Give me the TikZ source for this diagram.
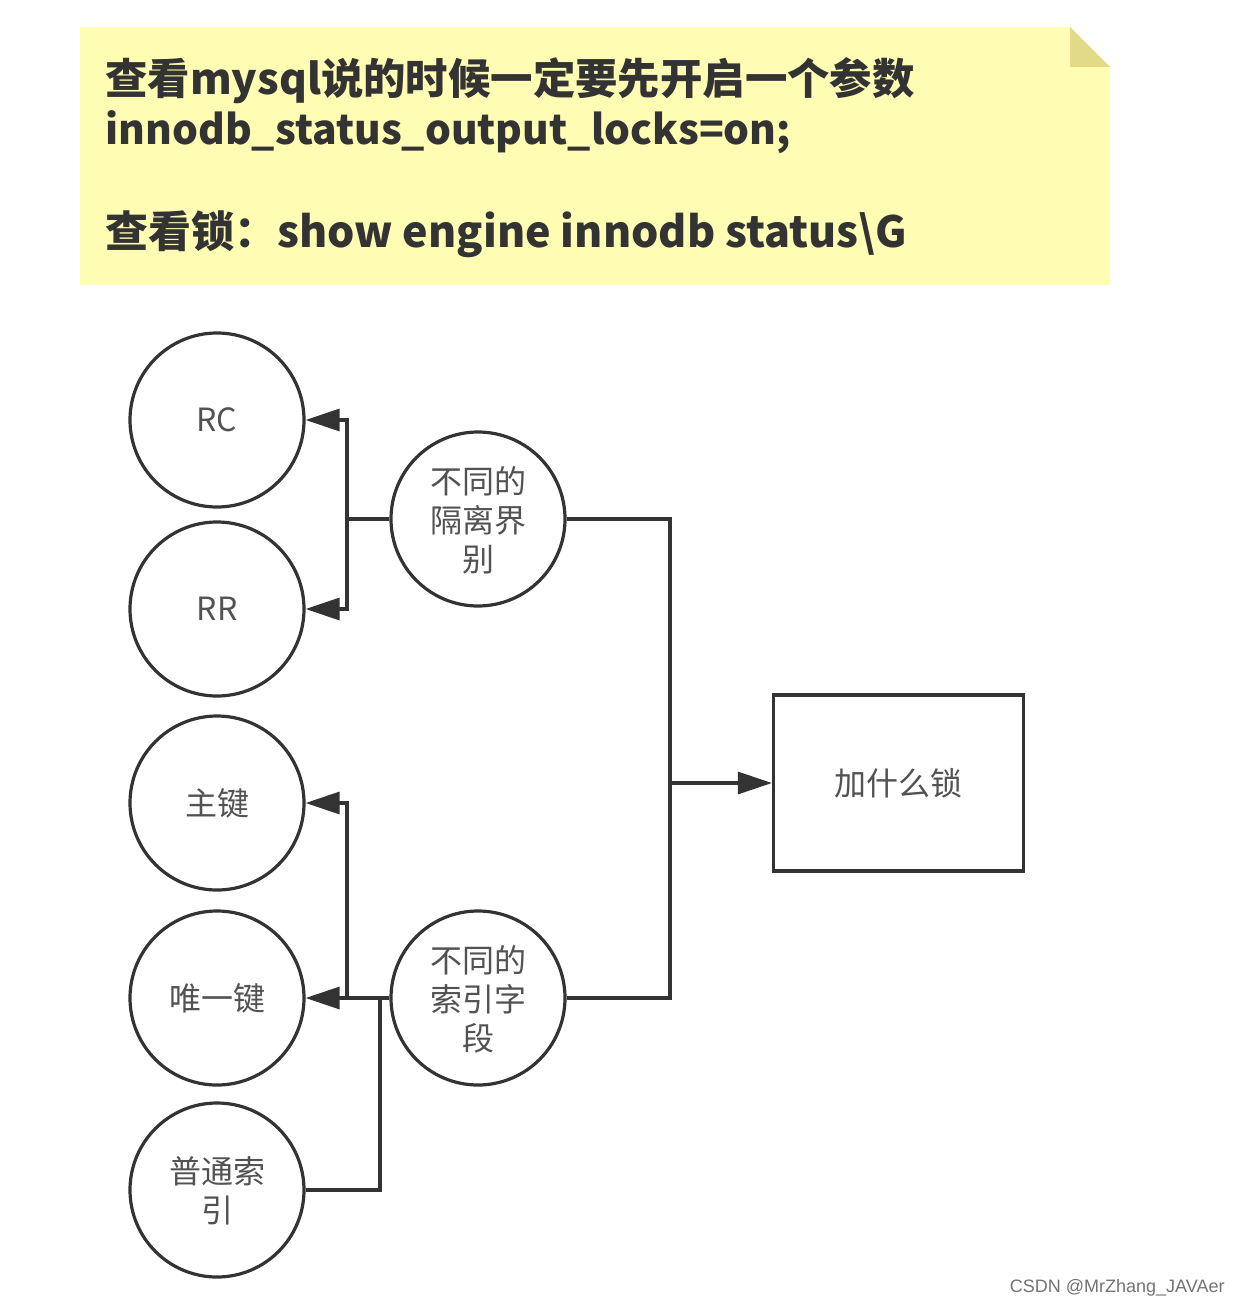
\documentclass[tikz,border=0pt]{standalone}
\usepackage{fontspec}
\setmainfont{Noto Sans CJK SC}
\newfontfamily\wmfont{Liberation Sans}
\usetikzlibrary{arrows.meta}
\definecolor{ink}{HTML}{333333}
\definecolor{notey}{HTML}{FFFCB4}
\definecolor{foldy}{HTML}{E2DA86}
\tikzset{
  circ/.style={circle, draw=ink, line width=1.6pt, minimum size=87pt, inner sep=0pt,
    align=center, text=ink!85, font=\fontsize{16}{19.5}\selectfont},
  boxnode/.style={rectangle, draw=ink, line width=1.6pt, minimum width=125pt, minimum height=88pt,
    inner sep=0pt, text=ink!85, font=\fontsize{16}{19.5}\selectfont},
  conn/.style={draw=ink, line width=1.6pt},
  arr/.style={conn, -{Triangle[length=17pt,width=11pt]}},
  hd/.style={anchor=base west, inner sep=0pt, text=ink, font=\fontsize{21.2}{26}\selectfont\bfseries}
}
\begin{document}
\begin{tikzpicture}[x=0.5pt,y=-0.5pt]
\useasboundingbox (0,0) rectangle (1240,1305);
\fill[white] (0,0) rectangle (1240,1305);
% sticky note
\fill[notey] (80,27) -- (1070,27) -- (1110,67) -- (1110,285) -- (80,285) -- cycle;
\fill[foldy] (1070,27) -- (1110,67) -- (1070,67) -- cycle;
\node[hd] (h1) at (105,95) {查看mysql说的时候一定要先开启一个参数};
\node[hd, font=\fontsize{20.4}{26}\selectfont\bfseries] (h2) at (105,145) {innodb\_status\_output\_locks=on;};
\node[hd, font=\fontsize{21.5}{26}\selectfont\bfseries] (h3) at (105,248) {查看锁：show engine innodb status\textbackslash G};
% nodes
\node[circ] (rc) at (217,420) {\raisebox{-1pt}{RC}};
\node[circ] (rr) at (217,609) {\raisebox{-1pt}{RR}};
\node[circ] (pk) at (217,803) {\raisebox{-1pt}{主键}};
\node[circ] (uk) at (217,998) {\raisebox{-1pt}{唯一键}};
\node[circ, text depth=-2pt] (nk) at (217,1190) {普通索\\引};
\node[circ, text depth=-2pt] (iso) at (478,519) {不同的\\隔离界\\别};
\node[circ, text depth=-2pt] (idx) at (478,998) {不同的\\索引字\\段};
\node[boxnode] (lock) at (898.5,783) {\raisebox{-1.5pt}{加什么锁}};
% connectors
\coordinate (j1) at (347,519);
\coordinate (j2) at (670,783);
\coordinate (j3) at (347,998);
\coordinate (j4) at (380,998);
\draw[arr] (iso.west) -- (j1) |- (rc.east);
\draw[arr] (j1) |- (rr.east);
\draw[conn] (iso.east) -| (j2);
\draw[conn] (idx.east) -| (j2);
\draw[arr] (j2) -- (lock.west);
\draw[arr] (idx.west) -- (j3) |- (pk.east);
\draw[arr] (j3) -- (uk.east);
\draw[conn] (nk.east) -| (j4);
% watermark
\node[anchor=base east, inner sep=0pt, text=black!55, font=\wmfont\fontsize{9}{10}\selectfont] (wm) at (1225,1292) {CSDN @MrZhang\_JAVAer};
\end{tikzpicture}
\end{document}
